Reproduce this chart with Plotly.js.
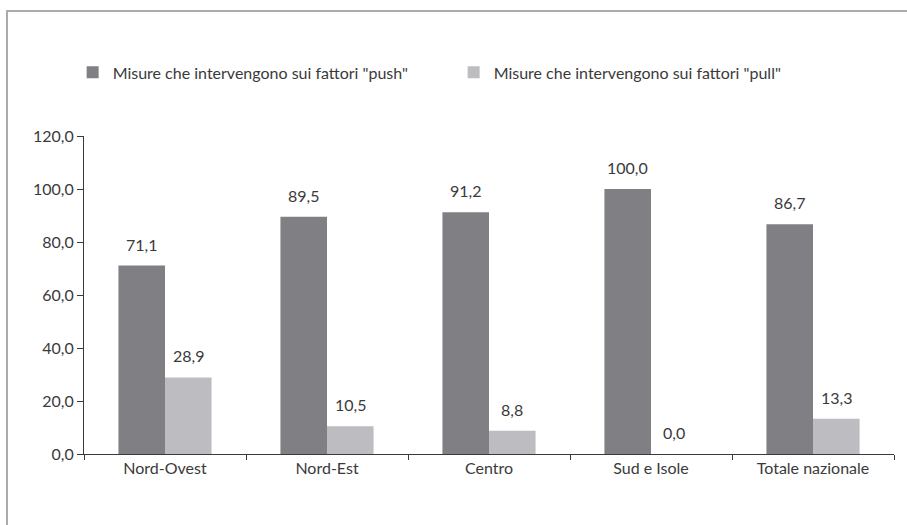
<!DOCTYPE html>
<html>
<head>
<meta charset="utf-8">
<script src="https://cdn.plot.ly/plotly-3.0.1.min.js"></script>
<style>
  html, body { margin: 0; padding: 0; background: #fff; }
  #wrap { position: relative; width: 907px; height: 525px; }
  #frame { position: absolute; left: 6px; top: 10px; width: 920px; height: 540px;
           border-top: 2px solid #ababab; border-left: 2px solid #ababab; pointer-events: none; }
  #chart { position: absolute; left: 0; top: 0; width: 907px; height: 525px; }
</style>
</head>
<body>
<div id="wrap">
  <div id="chart"></div>
  <div id="frame"></div>
</div>
<script>
const categories = ["Nord-Ovest", "Nord-Est", "Centro", "Sud e Isole", "Totale nazionale"];
const pushValues = [71.1, 89.5, 91.2, 100.0, 86.7];
const pullValues = [28.9, 10.5, 8.8, 0.0, 13.3];
const seriesNames = ['Misure che intervengono sui fattori "push"', 'Misure che intervengono sui fattori "pull"'];
const yTicks = [0, 20, 40, 60, 80, 100, 120];

const FONT = "Lato, Open Sans, sans-serif";
const FS = 16;
const TXT = "#3a3a3a";
const W = 907, H = 525;
const M = { l: 84, r: 13, t: 136, b: 71 };
const BARGAP = 0.425;

const traces = [
  { type: "bar", name: seriesNames[0], x: categories, y: pushValues,
    marker: { color: "#808084" }, hoverinfo: "x+y" },
  { type: "bar", name: seriesNames[1], x: categories, y: pullValues,
    marker: { color: "#bdbdc1" }, hoverinfo: "x+y" }
];

// value labels, anchored to each bar through the axes
const plotW = W - M.l - M.r;
const halfBar = plotW / categories.length * (1 - BARGAP) / 4;
const fmt = v => v.toFixed(1).replace(".", ",");
const annotations = [];
[pushValues, pullValues].forEach((vals, s) => {
  vals.forEach((v, i) => {
    annotations.push({
      x: categories[i], y: v, xref: "x", yref: "y",
      text: fmt(v), showarrow: false,
      xanchor: "center", yanchor: "bottom",
      xshift: (s === 0 ? -1 : 1) * halfBar, yshift: 10,
      font: { family: FONT, size: FS, color: TXT }
    });
  });
});

const layout = {
  width: W, height: H,
  margin: { l: M.l, r: M.r, t: M.t, b: M.b, pad: 0 },
  paper_bgcolor: "rgba(0,0,0,0)", plot_bgcolor: "rgba(0,0,0,0)",
  separators: ",.",
  font: { family: FONT, size: FS, color: TXT },
  barmode: "group", bargap: BARGAP, bargroupgap: 0,
  showlegend: true,
  legend: {
    orientation: "h", x: -0.014, xanchor: "left", y: 1.2, yanchor: "middle",
    font: { family: FONT, size: FS, color: TXT }, entrywidth: 336, entrywidthmode: "pixels",
    traceorder: "normal", bgcolor: "rgba(0,0,0,0)"
  },
  annotations: annotations,
  xaxis: {
    type: "category", showline: true, linecolor: "#3a3a3a", linewidth: 1,
    ticks: "outside", tickson: "boundaries", ticklen: 5, tickcolor: "#3a3a3a",
    showgrid: false, zeroline: false, fixedrange: true,
    tickfont: { family: FONT, size: FS, color: TXT }
  },
  yaxis: {
    range: [0, 120], tickvals: yTicks, tickformat: ".1f",
    showline: true, linecolor: "#3a3a3a", linewidth: 1,
    ticks: "outside", ticklen: 6, tickcolor: "#3a3a3a",
    showgrid: false, zeroline: false, fixedrange: true,
    tickfont: { family: FONT, size: FS, color: TXT }
  }
};

Plotly.newPlot("chart", traces, layout, { displayModeBar: false, staticPlot: true });
</script>
</body>
</html>
